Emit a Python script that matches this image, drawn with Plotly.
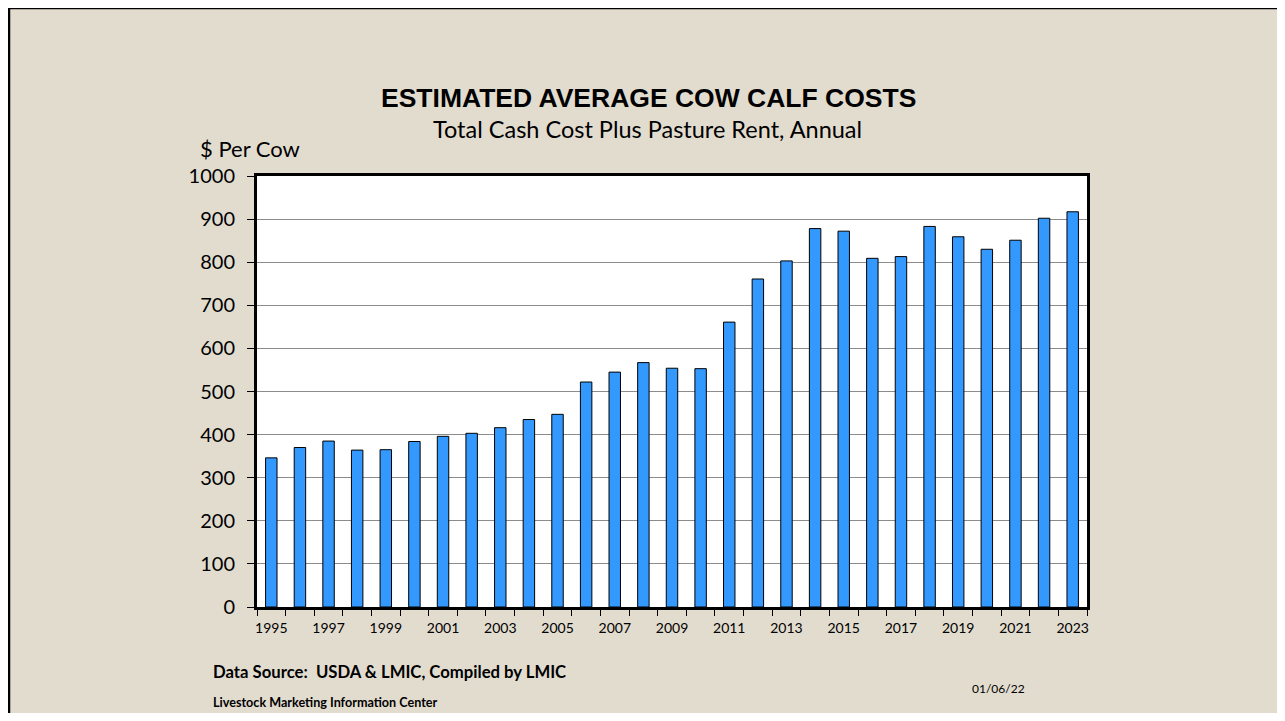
import plotly.graph_objects as go

# ---------------- data ----------------
years = list(range(1995, 2024))
costs = [346, 370, 385, 364, 365, 384, 396, 403, 416, 435, 447, 522, 545, 567,
         554, 553, 661, 761, 803, 878, 872, 809, 813, 883, 859, 830, 851, 902, 917]
x_tick_years = years[::2]
y_tick_values = list(range(0, 1001, 100))

title_text = "ESTIMATED AVERAGE COW CALF COSTS"
subtitle_text = "Total Cash Cost Plus Pasture Rent, Annual"
y_label_text = "$ Per Cow"
source_text = "Data Source:\u00a0 USDA &amp; LMIC, Compiled by LMIC"
org_text = "Livestock Marketing Information Center"
date_text = "01/06/22"

# ---------------- layout geometry (page pixels) ----------------
BODY = 8                      # default browser body margin
FIG_W, FIG_H = 1285 - BODY, 721 - 2 * BODY
PL, PR, PT, PB = 257, 1087, 176, 607   # plot area in page pixels

def px(x):
    return (x - PL) / (PR - PL)

def py(y):
    return (PB - y) / (PB - PT)

BG = "#E2DCCF"
BAR = "#3399FF"
CAL = "Lato, 'Open Sans', sans-serif"
ARIAL = "'Liberation Sans', Arial, sans-serif"

fig = go.Figure()
fig.add_trace(go.Bar(
    x=years, y=costs, width=0.4,
    marker=dict(color=BAR, line=dict(color="black", width=1)),
    showlegend=False, hoverinfo="x+y",
))

annotations = [
    dict(text=f"<b>{title_text}</b>", x=px(648), y=py(98), xanchor="center", yanchor="middle",
         font=dict(family=ARIAL, size=26.5, color="black")),
    dict(text=subtitle_text, x=px(647), y=py(129), xanchor="center", yanchor="middle",
         font=dict(family=CAL, size=23.5, color="black")),
    dict(text=y_label_text, x=px(250), y=py(148), xanchor="center", yanchor="middle",
         font=dict(family=CAL, size=22, color="black")),
    dict(text=f"<b>{source_text}</b>", x=px(211), y=py(672), xanchor="left", yanchor="middle",
         font=dict(family=CAL, size=16.7, color="black")),
    dict(text=f"<b>{org_text}</b>", x=px(211), y=py(702), xanchor="left", yanchor="middle",
         font=dict(family=CAL, size=12.6, color="black")),
    dict(text=date_text, x=px(998), y=py(688), xanchor="center", yanchor="middle",
         font=dict(family=CAL, size=12, color="black")),
]
for a in annotations:
    a.update(xref="paper", yref="paper", showarrow=False)

shapes = [
    # slide frame (left and top edges visible)
    dict(type="line", xref="paper", yref="paper", x0=px(9), x1=px(9), y0=py(8), y1=py(740),
         line=dict(color="black", width=2.5), layer="above"),
    dict(type="line", xref="paper", yref="paper", x0=px(9), x1=px(1300), y0=py(8), y1=py(8),
         line=dict(color="black", width=2.5), layer="above"),
]

fig.update_layout(
    width=FIG_W, height=FIG_H, autosize=False,
    margin=dict(l=PL - BODY, r=FIG_W - (PR - BODY), t=PT - BODY, b=FIG_H - (PB - BODY), pad=0),
    paper_bgcolor=BG, plot_bgcolor="white",
    annotations=annotations, shapes=shapes,
    bargap=0.6, showlegend=False,
    xaxis=dict(
        range=[years[0] - 0.5, years[-1] + 0.5],
        tickmode="array", tickvals=x_tick_years, ticktext=[str(v) for v in x_tick_years],
        ticks="", showgrid=False, zeroline=False,
        showline=True, linecolor="black", linewidth=3, mirror=True,
        tickfont=dict(family=CAL, size=14, color="black"),
        ticklabelstandoff=6,
        minor=dict(ticks="outside", ticklen=6, tickwidth=1, tickcolor="black",
                   tick0=years[0] - 0.5, dtick=1, showgrid=False),
    ),
    yaxis=dict(
        range=[0, 1000], tickmode="array", tickvals=y_tick_values,
        ticks="outside", ticklen=7, tickwidth=1, tickcolor="black",
        showgrid=True, gridcolor="#8C8C8C", gridwidth=1, zeroline=False,
        showline=True, linecolor="black", linewidth=3, mirror=True,
        tickfont=dict(family=CAL, size=20, color="black"),
        ticklabelstandoff=8,
    ),
)

fig.write_html("out.html")
